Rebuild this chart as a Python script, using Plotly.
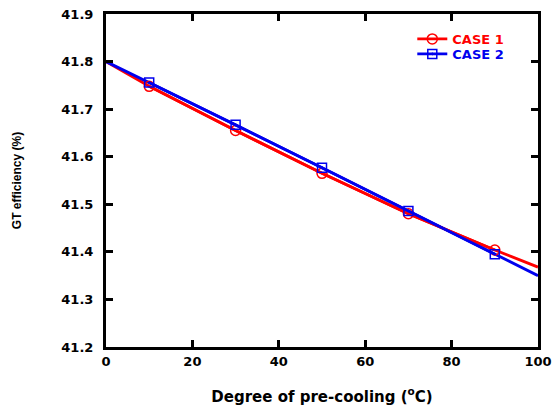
import plotly.graph_objects as go

# Data
x_line = [0, 10, 30, 50, 70, 90, 100]
case1_line = [41.800, 41.748, 41.655, 41.565, 41.480, 41.404, 41.368]
case2_line = [41.800, 41.756, 41.667, 41.577, 41.486, 41.395, 41.350]
x_mark = [10, 30, 50, 70, 90]
case1_mark = [41.748, 41.655, 41.565, 41.480, 41.404]
case2_mark = [41.756, 41.667, 41.577, 41.486, 41.395]
x_ticks = [0, 20, 40, 60, 80, 100]
y_ticks = [41.2, 41.3, 41.4, 41.5, 41.6, 41.7, 41.8, 41.9]

RED = "#FF0000"
BLUE = "#0000EE"
FONT = "DejaVu Sans"

fig = go.Figure()
fig.add_trace(go.Scatter(x=x_line, y=case1_line, mode="lines",
                         line=dict(color=RED, width=2.8), showlegend=False,
                         hoverinfo="skip"))
fig.add_trace(go.Scatter(x=x_line, y=case2_line, mode="lines",
                         line=dict(color=BLUE, width=2.8), showlegend=False,
                         hoverinfo="skip"))
fig.add_trace(go.Scatter(x=x_mark, y=case1_mark, mode="lines+markers",
                         name="<span style='color:#FF0000'>CASE 1</span>",
                         legend="legend",
                         line=dict(color=RED, width=2.8),
                         marker=dict(symbol="circle-open", size=10, color=RED,
                                     line=dict(width=1.5, color=RED))))
fig.add_trace(go.Scatter(x=x_mark, y=case2_mark, mode="lines+markers",
                         name="<span style='color:#0000EE'>CASE 2</span>",
                         legend="legend2",
                         line=dict(color=BLUE, width=2.8),
                         marker=dict(symbol="square-open-dot", size=9, color=BLUE,
                                     line=dict(width=1.5, color=BLUE))))

axis_common = dict(showline=True, linecolor="black", linewidth=3, mirror="ticks",
                   ticks="inside", ticklen=7, tickwidth=2.5, tickcolor="black",
                   showgrid=False, zeroline=False, automargin=False,
                   tickfont=dict(family=FONT, size=13, color="black", weight="bold"))

fig.update_xaxes(range=[0, 100], tickvals=x_ticks, ticklabelstandoff=0, **axis_common,
                 title=dict(text="<b>Degree of pre-cooling (<sup>o</sup>C)</b>",
                            font=dict(family=FONT, size=15, color="black"),
                            standoff=24))
fig.update_yaxes(range=[41.2, 41.9], tickvals=y_ticks, tickformat=".1f",
                 ticklabelstandoff=7, **axis_common,
                 title=dict(text="<b>GT efficiency (%)</b>",
                            font=dict(family="Liberation Sans", size=12, color="black"),
                            standoff=38))

leg_common = dict(xanchor="left", yanchor="middle", bgcolor="rgba(0,0,0,0)",
                  borderwidth=0, font=dict(family=FONT, size=13, weight="bold"),
                  itemwidth=30)
fig.update_layout(
    width=552, height=409,
    margin=dict(l=106, r=14, t=14, b=62),
    paper_bgcolor="white", plot_bgcolor="white",
    legend=dict(x=0.709, y=0.925, **leg_common),
    legend2=dict(x=0.709, y=0.880, **leg_common),
)

fig.write_html("out.html")
